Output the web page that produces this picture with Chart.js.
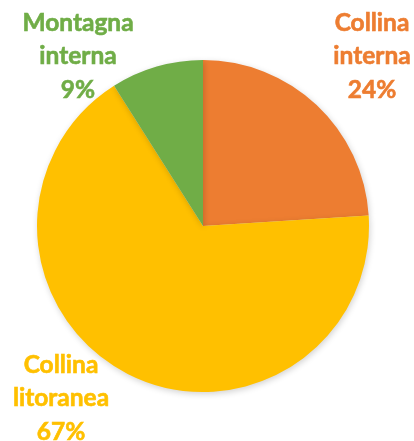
<!DOCTYPE html>
<html>
<head>
<meta charset="utf-8">
<script src="https://cdn.jsdelivr.net/npm/chart.js@4"></script>
<style>
  html, body { margin: 0; padding: 0; background: #fff; }
  canvas { display: block; }
</style>
</head>
<body>
<canvas id="pie-chart" width="414" height="441"></canvas>
<script>
const categories = [['Collina', 'interna'], ['Collina', 'litoranea'], ['Montagna', 'interna']];
const shares = [24, 67, 9];
const sliceColors = ['#ED7D31', '#FFC000', '#70AD47'];

// where each label block sits (centre x, first line y)
const labelSpots = [
	{ x: 372, y: 23 },
	{ x: 61, y: 365 },
	{ x: 78, y: 23 },
];

const shadowPlugin = {
	id: 'shadow',
	beforeDatasetDraw(chart) {
		const ctx = chart.ctx;
		ctx.save();
		ctx.shadowColor = 'rgba(0,0,0,0.18)';
		ctx.shadowBlur = 6;
		ctx.shadowOffsetX = 1;
		ctx.shadowOffsetY = 2;
	},
	afterDatasetDraw(chart) {
		chart.ctx.restore();
	},
};

const labelPlugin = {
	id: 'sliceLabels',
	afterDraw(chart) {
		const ctx = chart.ctx;
		ctx.save();
		ctx.font = 'bold 24.5px Lato';
		ctx.textAlign = 'center';
		ctx.textBaseline = 'middle';
		categories.forEach((lines, i) => {
			const spot = labelSpots[i];
			ctx.fillStyle = sliceColors[i];
			ctx.strokeStyle = sliceColors[i];
			ctx.lineWidth = 0.6;
			const all = [...lines, shares[i] + '%'];
			all.forEach((t, k) => {
				ctx.fillText(t, spot.x, spot.y + k * 33.5);
				ctx.strokeText(t, spot.x, spot.y + k * 33.5);
			});
		});
		ctx.restore();
	},
};

new Chart(document.getElementById('pie-chart'), {
	type: 'pie',
	data: {
		labels: categories.map(c => c.join(' ')),
		datasets: [{
			data: shares,
			backgroundColor: sliceColors,
			borderWidth: 0,
		}],
	},
	options: {
		responsive: false,
		animation: false,
		layout: { padding: { left: 37, right: 45, top: 60, bottom: 49 } },
		plugins: {
			legend: { display: false },
			tooltip: { enabled: false },
		},
	},
	plugins: [shadowPlugin, labelPlugin],
});
</script>
</body>
</html>
